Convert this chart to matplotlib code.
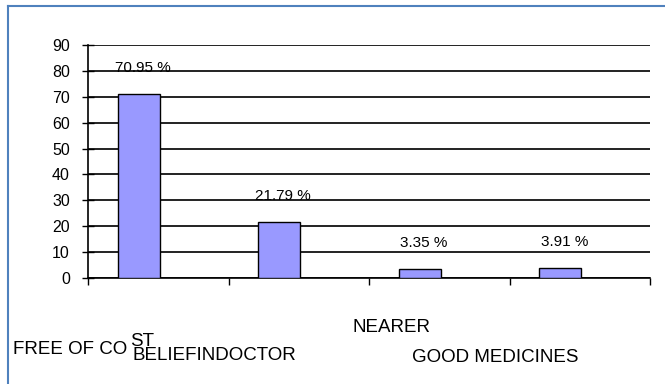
import numpy as np
import matplotlib.pyplot as plt

categories = ['FREE OF COST', 'BELIEFINDOCTOR', 'NEARER', 'GOOD MEDICINES']
values = [70.95, 21.79, 3.35, 3.91]
labels = ['70.95 %', '21.79 %', '3.35 %', '3.91 %']
yticks = np.arange(0, 100, 10)

plt.rcParams['font.family'] = ['Liberation Sans', 'DejaVu Sans']

fig = plt.figure(figsize=(6.65, 3.84), dpi=100)
ax = fig.add_axes([88/665, 1-278/384, (650-88)/665, (278-45)/384])

x = np.arange(len(categories))
xb = x - 0.14  # bars sit left of the category centre (empty 2nd series in the original)
ax.bar(xb, values, width=0.3, color='#9999ff', edgecolor='black', linewidth=1.0, zorder=3)

for xi, v, lab in zip(xb, values, labels):
    ax.text(xi + 0.03, v + 10, lab, ha='center', va='center', fontsize=11, zorder=4)

ax.set_xlim(-0.5, len(categories) - 0.5)
ax.set_ylim(0, 90)
ax.set_yticks(yticks)
ax.tick_params(axis='y', labelsize=11.5, length=8, width=1, direction='inout', pad=9)
ax.set_xticks(np.arange(len(categories) + 1) - 0.5)
ax.set_xticklabels([])
ax.tick_params(axis='x', length=5, width=1, direction='out')
ax.yaxis.grid(True, color='#222222', linewidth=1.4, zorder=0)
ax.set_axisbelow(True)
for s in ['top', 'right']:
    ax.spines[s].set_visible(False)
ax.spines['left'].set_linewidth(1.2)
ax.spines['bottom'].set_linewidth(1.2)

# staggered / overlapping category labels as in the original export
fig.text(13/665, 1-349/384, categories[0][:-2], fontsize=13.5, va='center', ha='left')
fig.text(130/665, 1-342/384, categories[0][-2:], fontsize=13.5, va='center', ha='left')
fig.text(133/665, 1-355/384, categories[1], fontsize=13.5, va='center', ha='left')
fig.text(392/665, 1-327/384, categories[2], fontsize=13.5, va='center', ha='center')
fig.text(495/665, 1-358/384, categories[3], fontsize=13.5, va='center', ha='center')

# frame lines (top and left)
fig.add_artist(plt.Line2D([8/665, 1], [1-6/384, 1-6/384], color='#4f81bd', linewidth=1.5))
fig.add_artist(plt.Line2D([8/665, 8/665], [0, 1-6/384], color='#4f81bd', linewidth=1.5))

fig.savefig('out.png', dpi=100)
